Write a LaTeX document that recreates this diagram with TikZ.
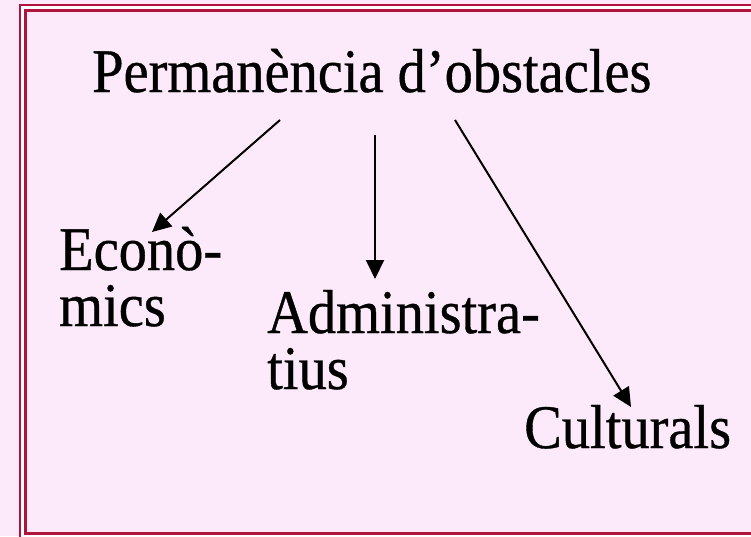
\documentclass[tikz,border=0pt]{standalone}
\usepackage{fontspec}
\setmainfont{Liberation Serif}[FakeStretch=0.91,FakeBold=0.6]
\usetikzlibrary{arrows.meta}
\definecolor{bgpink}{RGB}{252,234,250}
\definecolor{frame}{RGB}{175,20,60}
\tikzset{
  lbl/.style={anchor=base west, inner sep=0pt, font=\fontsize{62}{56}\selectfont},
  conn/.style={line width=2pt, -{Triangle[length=19pt,width=18pt]}},
}
\newcommand{\twolines}[2]{\vtop{\baselineskip=56pt\lineskiplimit=-100pt\hbox{#1}\hbox{#2}}}
\begin{document}
\begin{tikzpicture}[x=1pt,y=-1pt]
\useasboundingbox (0,0) rectangle (751,536);
\clip (0,0) rectangle (751,536);
\fill[bgpink] (0,0) rectangle (751,536);
\draw[frame, line width=2.8pt, fill=white] (20,5) rectangle (790,560);
\draw[frame, line width=2.8pt, fill=bgpink] (25.5,10.5) rectangle (770,533.5);
\node[lbl] (title) at (92,92) {Permanència d’obstacles};
\node[lbl] (econ) at (59,270) {\twolines{Econò-}{mics}};
\node[lbl] (admin) at (267,333) {\twolines{Administra-}{tius}};
\node[lbl] (cult) at (524,448) {Culturals};
\coordinate (s1) at (280,120);
\coordinate (t1) at (152,232);
\coordinate (s2) at (375,135);
\coordinate (t2) at (375,279);
\coordinate (s3) at (455,120);
\coordinate (t3) at (631,407);
\draw[conn] (s1) -- (t1);
\draw[conn] (s2) -- (t2);
\draw[conn] (s3) -- (t3);
\end{tikzpicture}
\end{document}
